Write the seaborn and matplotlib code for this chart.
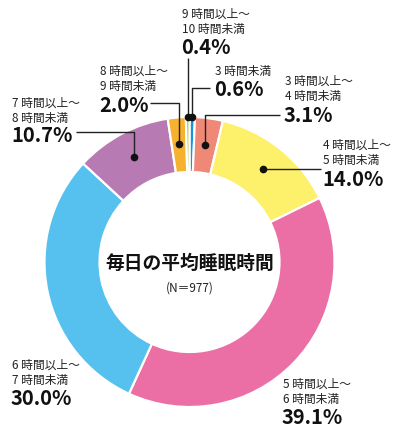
import numpy as np
import matplotlib.pyplot as plt
import seaborn as sns

sns.set_theme(style='white')
plt.rcParams['font.family'] = ['Noto Sans CJK JP', 'DejaVu Sans']

# --- data (clockwise from 12 o'clock) ---
line1 = ['3 時間未満', '3 時間以上～', '4 時間以上～', '5 時間以上～',
         '6 時間以上～', '7 時間以上～', '8 時間以上～', '9 時間以上～']
line2 = ['', '4 時間未満', '5 時間未満', '6 時間未満',
         '7 時間未満', '8 時間未満', '9 時間未満', '10 時間未満']
shares = [0.6, 3.1, 14.0, 39.1, 30.0, 10.7, 2.0, 0.4]
colors = ['#1f8fe0', '#ef8877', '#fdf06a', '#eb6ea5',
          '#56c1ef', '#b87ab2', '#f6b12f', '#a3cf45']
title = '毎日の平均睡眠時間'
n_note = '(N＝977)'

W, H = 400, 436
cx, cy = 189.5, 262          # donut centre (px from top)
r_out, ring = 145, 55


def Y(y):
    return H - y


fig = plt.figure(figsize=(W / 100, H / 100), dpi=100)
ax = fig.add_axes([0, 0, 1, 1])
ax.pie(shares, colors=colors, startangle=90, counterclock=False,
       radius=r_out, center=(cx, Y(cy)),
       wedgeprops=dict(width=ring, edgecolor='white', linewidth=1.6))
ax.set_xlim(0, W)
ax.set_ylim(0, H)
ax.set_aspect('equal')
ax.axis('off')

# centre text
ax.text(cx, Y(263), title, ha='center', va='center',
        fontsize=13.5, fontweight='bold', color='#111111')
ax.text(cx, Y(288), n_note, ha='center', va='center',
        fontsize=8.5, color='#222222')

# label layout: x_left, y of first text line, y of percentage, leader style
layout = [
    (215, 71, 89, 'up_right', 88, 210),
    (285, 81, 116, 'up_right', 115, 280),
    (323, 145, 179, 'right', None, 321),
    (283, 384, 417, None, None, None),
    (12, 365, 398, None, None, None),
    (12, 103, 135, 'up_left', 132, 76),
    (100, 71, 105, 'up_left', 103, 150),
    (182, 14, 48, 'up', 58, None),
]

total = sum(shares)
cum = np.cumsum([0] + shares[:-1])
for i, (s, (lx, ly1, lyp, style, ey, ex)) in enumerate(zip(shares, layout)):
    # small two-line label + bold percentage
    if line2[i]:
        ax.text(lx, Y(ly1), line1[i], ha='left', va='center', fontsize=8.5, color='#222222')
        ax.text(lx, Y(ly1 + 15), line2[i], ha='left', va='center', fontsize=8.5, color='#222222')
    else:
        ax.text(lx, Y(ly1), line1[i], ha='left', va='center', fontsize=8.5, color='#222222')
    ax.text(lx - 1, Y(lyp), f'{s:.1f}%', ha='left', va='center',
            fontsize=14.5, fontweight='bold', color='#111111')

    if style is None:
        continue
    # dot on the wedge (mid angle; thin wedges get it at the outer edge)
    ang = np.deg2rad(90 - 360 * (cum[i] + s / 2) / total)
    rr = r_out if s < 1 else r_out - ring / 2 + 1
    dx, dy = cx + rr * np.cos(ang), cy - rr * np.sin(ang)
    if style == 'up':
        xs, ys = [dx, dx], [dy, ey]
    elif style == 'right':
        xs, ys = [dx, ex], [dy, dy]
    else:
        xs, ys = [dx, dx, ex], [dy, ey, ey]
    ax.plot(xs, [Y(v) for v in ys], color='#222222', lw=1.0,
            solid_capstyle='butt')
    ax.plot([dx], [Y(dy)], 'o', color='#111111', ms=4.5)

fig.savefig('out.png', dpi=100)
